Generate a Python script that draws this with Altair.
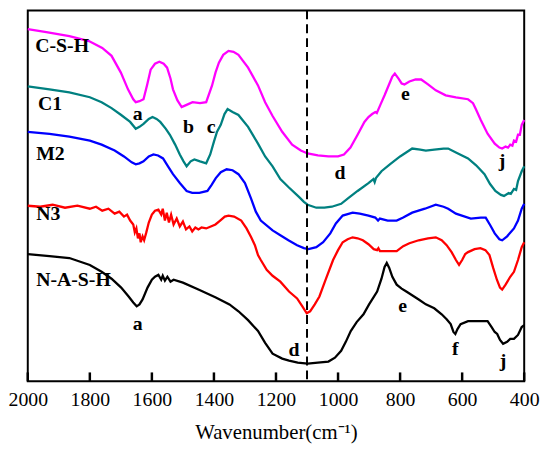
import altair as alt
import pandas as pd

# ---------------- data (arbitrary transmittance units) ----------------
csh_wn = [2000, 1940, 1866, 1803, 1760, 1730, 1700, 1677, 1660, 1652, 1640, 1627, 1615, 1604, 1590, 1576, 1562, 1551,
          1540, 1532, 1518, 1504, 1490, 1469, 1445, 1425, 1406, 1395, 1384, 1370, 1353, 1337, 1321, 1290, 1258, 1235,
          1211, 1180, 1148, 1120, 1098, 1065, 1031, 1000, 981, 960, 937, 915, 902, 890, 880, 875, 864, 850, 833, 825,
          817, 805, 795, 786, 770, 750, 732, 710, 685, 653, 620, 581, 565, 556, 540, 518, 495, 480, 471, 460, 452,
          445, 438, 433, 426, 420, 414, 408, 400]
csh_t = [357, 354, 350, 345, 338, 330, 313, 296, 286, 283, 284, 286, 301, 316, 322, 324, 322, 318,
         307, 296, 285, 278, 280, 283, 282, 283, 300, 313, 323, 331, 335, 334, 331, 318, 300, 283,
         269, 253, 240, 234, 231, 229, 228, 228, 230, 237, 250, 263, 268, 271, 273, 272, 280, 290, 303, 309,
         312, 307, 302, 301, 304, 306, 306, 301, 295, 290, 288, 286, 282, 276, 265, 251, 241, 237, 236, 238, 237,
         240, 239, 244, 243, 250, 250, 260, 265]

c1_wn = [2000, 1930, 1866, 1800, 1762, 1730, 1699, 1670, 1652, 1640, 1627, 1610, 1598, 1585, 1573, 1555, 1542, 1525,
         1510, 1498, 1488, 1475, 1463, 1445, 1425, 1412, 1400, 1390, 1378, 1366, 1356, 1340, 1321, 1290, 1258, 1235,
         1211, 1186, 1160, 1126, 1110, 1098, 1070, 1044, 1020, 990, 966, 937, 902, 886, 882, 878, 860, 833, 800, 761,
         735, 717, 690, 660, 645, 620, 581, 555, 528, 510, 493, 475, 465, 450, 443, 433, 426, 420, 408, 400]
c1_t = [299, 296, 293, 288, 283, 277, 270, 263, 256, 258, 261, 266, 268, 266, 263, 256, 250, 240,
        230, 223, 218, 223, 225, 223, 221, 230, 243, 253, 260, 271, 276, 273, 270, 258, 241, 228,
        218, 205, 197, 187, 182, 179, 176, 176, 177, 180, 186, 193, 201, 205, 202, 206, 213, 220, 228, 236,
        235, 234, 235, 236, 236, 232, 226, 219, 210, 200, 193, 189, 188, 191, 190, 195, 194, 203, 213, 218]

m2_wn = [2000, 1930, 1866, 1800, 1762, 1720, 1690, 1665, 1652, 1640, 1627, 1610, 1595, 1580, 1564, 1548, 1532, 1510,
         1488, 1470, 1447, 1421, 1408, 1394, 1378, 1359, 1340, 1321, 1300, 1280, 1265, 1249, 1211, 1186, 1160, 1132,
         1110, 1095, 1070, 1048, 1025, 1007, 985, 953, 930, 902, 880, 871, 865, 840, 811, 790, 761, 720, 685, 660,
         645, 620, 572, 540, 524, 509, 495, 480, 471, 455, 433, 420, 408, 400]
m2_t = [253, 251, 248, 244, 240, 234, 228, 222, 220, 221, 223, 228, 230, 229, 226, 218, 210, 201,
        193, 191, 191, 193, 199, 206, 212, 215, 214, 210, 201, 185, 172, 163, 153, 148, 143, 138,
        135, 134, 136, 141, 150, 160, 168, 171, 170, 168, 166, 163, 165, 163, 163, 166, 171, 175, 179, 177,
        175, 170, 165, 166, 166, 158, 150, 144, 143, 147, 155, 163, 175, 180]

n3_wn = [2000, 1960, 1920, 1880, 1840, 1800, 1780, 1760, 1740, 1720, 1705, 1690, 1680, 1670, 1660, 1655, 1650, 1645,
         1640, 1636, 1630, 1625, 1618, 1610, 1600, 1590, 1579, 1570, 1565, 1558, 1552, 1545, 1538, 1530, 1520, 1510,
         1500, 1490, 1479, 1470, 1460, 1450, 1440, 1425, 1410, 1395, 1380, 1365, 1353, 1335, 1312, 1295, 1280, 1268,
         1258, 1249, 1230, 1211, 1186, 1158, 1132, 1115, 1101, 1090, 1075, 1060, 1040, 1016, 1000, 985, 969, 953,
         937, 920, 902, 885, 874, 870, 865, 840, 811, 790, 770, 740, 710, 685, 666, 650, 634, 620, 610, 600, 590,
         581, 560, 541, 525, 512, 500, 488, 478, 471, 460, 445, 433, 420, 408, 400]
n3_t = [178, 177, 179, 176, 178, 175, 177, 173, 175, 170, 172, 167, 169, 163, 159, 151, 155, 145,
        150, 141, 147, 143, 151, 161, 169, 173, 174, 169, 175, 163, 171, 161, 169, 159, 165, 157,
        162, 154, 157, 152, 156, 154, 156, 155, 157, 159, 163, 167, 168, 167, 163, 155, 146, 138,
        128, 123, 113, 107, 101, 91, 84, 76, 69, 71, 78, 86, 103, 123, 133, 141, 144, 146,
        145, 143, 139, 134, 133, 135, 132, 132, 132, 137, 140, 143, 145, 146, 143, 138, 131, 123, 118, 123, 129,
        131, 134, 135, 133, 128, 115, 103, 95, 93, 98, 106, 111, 123, 136, 141]

nash_wn = [2000, 1930, 1866, 1800, 1762, 1730, 1699, 1675, 1660, 1649, 1640, 1630, 1614, 1600, 1590, 1579, 1570, 1565,
           1558, 1550, 1540, 1530, 1500, 1450, 1394, 1350, 1321, 1290, 1258, 1235, 1211, 1180, 1158, 1130, 1098, 1065,
           1031, 1010, 990, 975, 959, 940, 918, 900, 874, 860, 850, 843, 835, 825, 811, 795, 780, 760, 740, 717, 690,
           666, 650, 637, 628, 622, 615, 605, 581, 550, 518, 505, 495, 487, 478, 468, 455, 445, 433, 420, 408, 400]
nash_t = [129, 127, 125, 118, 111, 104, 95, 86, 80, 76, 78, 83, 95, 103, 106, 108, 103, 107,
          102, 106, 101, 103, 100, 93, 85, 78, 71, 62, 51, 39, 28, 23, 21, 19, 18, 19,
          20, 24, 31, 40, 51, 60, 68, 78, 91, 104, 116, 120, 115, 106, 98, 94, 91, 87, 83, 78, 74,
          68, 63, 58, 50, 48, 53, 58, 61, 61, 61, 55, 50, 48, 42, 38, 40, 43, 43, 47, 55, 57]

series_names = ["C-S-H", "C1", "M2", "N3", "N-A-S-H"]
series_colors = ["#FF00FF", "#008080", "#0000FF", "#FF0000", "#000000"]
series_wn = [csh_wn, c1_wn, m2_wn, n3_wn, nash_wn]
series_t = [csh_t, c1_t, m2_t, n3_t, nash_t]

# sample name labels (wavenumber, transmittance)
name_x = [1976, 1967, 1973, 1973, 1973]
name_y = [340, 281, 230, 170, 103]

# band labels
band_text = ["a", "b", "c", "d", "e", "j", "a", "d", "e", "f", "j"]
band_x = [1646, 1482, 1409, 994, 783, 471, 1646, 1142, 792, 622, 468]
band_y = [271, 258, 258, 211, 291, 223, 58, 32, 76, 33, 21]

tick_values = [2000, 1800, 1600, 1400, 1200, 1000, 800, 600, 400]
dash_wn = 1100

# ---------------- build tables ----------------
rows = []
for name, wns, ts in zip(series_names, series_wn, series_t):
    for w, t in zip(wns, ts):
        rows.append({"sample": name, "wn": w, "T": t})
df = pd.DataFrame(rows)
names_df = pd.DataFrame({"label": series_names, "wn": name_x, "T": name_y})
bands_df = pd.DataFrame({"label": band_text, "wn": band_x, "T": band_y})
ticks_df = pd.DataFrame({"wn": tick_values, "lo": [0] * len(tick_values), "hi": [9] * len(tick_values)})

FONT = "Liberation Serif"
xscale = alt.Scale(domain=[2000, 400], nice=False, zero=False)
yscale = alt.Scale(domain=[0, 376], nice=False, zero=False)

lines = alt.Chart(df).mark_line(strokeWidth=2.3, interpolate="linear").encode(
    x=alt.X("wn:Q", scale=xscale,
            axis=alt.Axis(title="Wavenumber(cm⁻¹)", values=tick_values, format="d", labelFlush=False,
                          labelOverlap=False, ticks=False, domain=False, grid=False, labelFont=FONT,
                          labelFontSize=20, labelColor="black", labelPadding=8, titleFont=FONT,
                          titleFontSize=21, titleFontWeight="normal", titleColor="black", titlePadding=13)),
    y=alt.Y("T:Q", scale=yscale, axis=None),
    color=alt.Color("sample:N", scale=alt.Scale(domain=series_names, range=series_colors), legend=None),
    order=alt.Order("wn:Q"),
)

dash = alt.Chart(pd.DataFrame({"wn": [dash_wn]})).mark_rule(
    color="black", strokeWidth=2, strokeDash=[9, 5]
).encode(x=alt.X("wn:Q", scale=xscale))

names = alt.Chart(names_df).mark_text(
    font=FONT, fontSize=20, fontWeight="bold", align="left", baseline="middle", color="black"
).encode(x=alt.X("wn:Q", scale=xscale), y=alt.Y("T:Q", scale=yscale), text="label:N")

bands = alt.Chart(bands_df).mark_text(
    font=FONT, fontSize=20, fontWeight="bold", align="center", baseline="middle", color="black"
).encode(x=alt.X("wn:Q", scale=xscale), y=alt.Y("T:Q", scale=yscale), text="label:N")

# inward tick marks on the bottom axis, drawn from field values in the tick table
ticks = alt.Chart(ticks_df).mark_rule(color="black", strokeWidth=2.5).encode(
    x=alt.X("wn:Q", scale=xscale),
    y=alt.Y("lo:Q", scale=yscale),
    y2="hi:Q",
)

chart = alt.layer(lines, dash, names, bands, ticks).properties(
    width=502, height=375,
    autosize=alt.AutoSizeParams(type="none"),
    padding={"left": 20, "top": 0, "right": 18, "bottom": 70},
    background="white",
).configure_view(stroke="black", strokeWidth=2)

chart.save("out.html", embed_options={"renderer": "svg", "actions": False})
